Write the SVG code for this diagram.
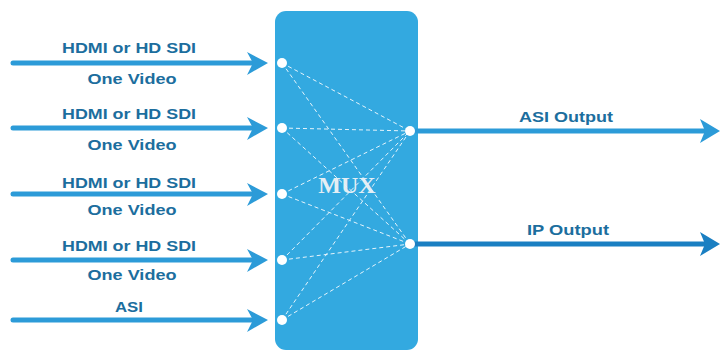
<svg xmlns="http://www.w3.org/2000/svg" width="721" height="354" viewBox="0 0 721 354">
<defs>
<style>
.lbl{font-family:"Liberation Sans",Arial,sans-serif;font-weight:bold;font-size:15px;fill:#1c6e9e;text-anchor:middle}
.in{stroke:#2c9bd8;stroke-width:5;fill:none;stroke-linecap:round}
.head{fill:#2c9bd8}
.dash{stroke:#e6f4fc;stroke-width:1;stroke-dasharray:4 3;fill:none}
.dot{fill:#ffffff}
</style>
</defs>
<rect width="721" height="354" fill="#ffffff"/>
<g id="mux">
<rect x="275" y="11" width="143" height="339" rx="11" fill="#33a9e0"/>
<text x="347" y="193" font-family="Liberation Serif,serif" font-weight="bold" font-size="24" fill="#e4eef4" text-anchor="middle">MUX</text>
</g>
<g id="connectors">
<g id="in1"><line class="in" x1="13" y1="63" x2="256" y2="63"/><polygon class="head" points="268,63 247,52 253,63 247,75"/></g>
<g id="in2"><line class="in" x1="13" y1="128" x2="256" y2="128"/><polygon class="head" points="268,128 247,117 253,128 247,140"/></g>
<g id="in3"><line class="in" x1="13" y1="194" x2="256" y2="194"/><polygon class="head" points="268,194 247,183 253,194 247,206"/></g>
<g id="in4"><line class="in" x1="13" y1="260" x2="256" y2="260"/><polygon class="head" points="268,260 247,249 253,260 247,272"/></g>
<g id="in5"><line class="in" x1="13" y1="320" x2="256" y2="320"/><polygon class="head" points="268,320 247,309 253,320 247,332"/></g>
<g id="out1"><line x1="412" y1="131" x2="708" y2="131" stroke="#2c9bd8" stroke-width="5"/><polygon points="720,131 700,119 705,131 700,143" fill="#2c9bd8"/></g>
<g id="out2"><line x1="412" y1="244" x2="708" y2="244" stroke="#1a7fc2" stroke-width="5"/><polygon points="720,244 700,232 705,244 700,256" fill="#1a7fc2"/></g>
<g id="mesh">
<line class="dash" x1="282" y1="63" x2="410" y2="131"/><line class="dash" x1="282" y1="63" x2="410" y2="244"/>
<line class="dash" x1="282" y1="128" x2="410" y2="131"/><line class="dash" x1="282" y1="128" x2="410" y2="244"/>
<line class="dash" x1="282" y1="194" x2="410" y2="131"/><line class="dash" x1="282" y1="194" x2="410" y2="244"/>
<line class="dash" x1="282" y1="260" x2="410" y2="131"/><line class="dash" x1="282" y1="260" x2="410" y2="244"/>
<line class="dash" x1="282" y1="320" x2="410" y2="131"/><line class="dash" x1="282" y1="320" x2="410" y2="244"/>
</g>
</g>
<g id="dots">
<circle class="dot" cx="282" cy="63" r="5"/><circle class="dot" cx="282" cy="128" r="5"/><circle class="dot" cx="282" cy="194" r="5"/><circle class="dot" cx="282" cy="260" r="5"/><circle class="dot" cx="282" cy="320" r="5"/>
<circle class="dot" cx="410" cy="131" r="5"/><circle class="dot" cx="410" cy="244" r="5"/>
</g>
<g id="labels">
<text class="lbl" x="129" y="53" textLength="134" lengthAdjust="spacingAndGlyphs">HDMI or HD SDI</text><text class="lbl" x="132" y="84" textLength="89" lengthAdjust="spacingAndGlyphs">One Video</text>
<text class="lbl" x="129" y="119" textLength="134" lengthAdjust="spacingAndGlyphs">HDMI or HD SDI</text><text class="lbl" x="132" y="150" textLength="89" lengthAdjust="spacingAndGlyphs">One Video</text>
<text class="lbl" x="129" y="188" textLength="134" lengthAdjust="spacingAndGlyphs">HDMI or HD SDI</text><text class="lbl" x="132" y="215" textLength="89" lengthAdjust="spacingAndGlyphs">One Video</text>
<text class="lbl" x="129" y="251" textLength="134" lengthAdjust="spacingAndGlyphs">HDMI or HD SDI</text><text class="lbl" x="132" y="280" textLength="89" lengthAdjust="spacingAndGlyphs">One Video</text>
<text class="lbl" x="129" y="312" textLength="28" lengthAdjust="spacingAndGlyphs">ASI</text>
<text class="lbl" x="566" y="122" textLength="94" lengthAdjust="spacingAndGlyphs">ASI Output</text>
<text class="lbl" x="568" y="235" textLength="82" lengthAdjust="spacingAndGlyphs">IP Output</text>
</g>
</svg>
